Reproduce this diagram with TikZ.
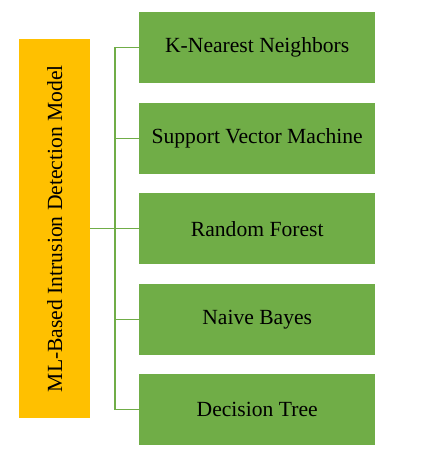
\documentclass[tikz,border=0pt]{standalone}
\usepackage{fontspec}
\setmainfont{Liberation Serif}
\definecolor{boxgreen}{HTML}{70AD47}
\definecolor{boxyellow}{HTML}{FFC000}
\begin{document}
\begin{tikzpicture}[x=1pt,y=-1pt,
  algbox/.style={fill=boxgreen, minimum width=236pt, minimum height=71pt, inner sep=0pt, font=\fontsize{21.6}{24}\selectfont, anchor=north west},
  conn/.style={draw=boxgreen, line width=1.5pt}]
\useasboundingbox (0,0) rectangle (427,463);
\node[fill=boxyellow, minimum width=71pt, minimum height=379pt, inner sep=0pt, anchor=north west] (main) at (19,39) {};
\node[rotate=90, font=\fontsize{21.6}{24}\selectfont] (mainlbl) at (main.center) {ML-Based Intrusion Detection Model};
\node[algbox] (knn) at (139,12) {K-Nearest Neighbors};
\node[algbox] (svm) at (139,103) {Support Vector Machine};
\node[algbox] (rf) at (139,193) {Random Forest};
\node[algbox] (nb) at (139,284) {Naive Bayes};
\node[algbox] (dt) at (139,374) {Decision Tree};
\coordinate (top) at (115,0 |- knn.west);
\coordinate (bot) at (115,0 |- dt.west);
\coordinate (mid) at (115,0 |- main.east);
\draw[conn] (knn.west) -- (top) -- (bot) -- (dt.west);
\draw[conn] (svm.west) -- (svm.west -| top);
\draw[conn] (rf.west) -- (rf.west -| top);
\draw[conn] (nb.west) -- (nb.west -| top);
\draw[conn] (main.east |- rf.west) -- (rf.west -| top);
\end{tikzpicture}
\end{document}
